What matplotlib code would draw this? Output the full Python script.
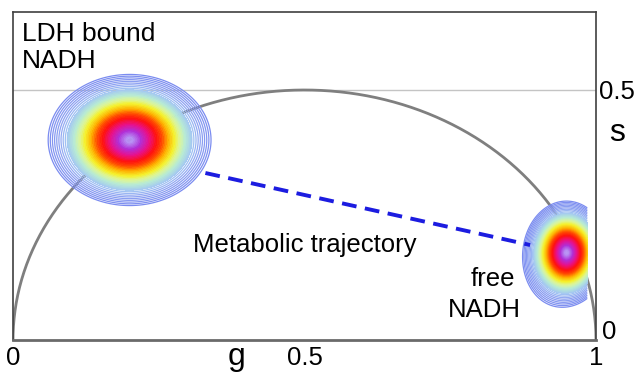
import numpy as np
import matplotlib.pyplot as plt
from matplotlib.colors import LinearSegmentedColormap

plt.rcParams['font.family'] = ['Liberation Sans', 'DejaVu Sans']

# blob parameters: centre (g, s), spread (g, s), weight
ldh_center = [0.20, 0.40]
ldh_sigma = [0.049, 0.046]
free_center = [0.950, 0.175]
free_sigma = [0.025, 0.036]
free_tail_center = [0.930, 0.150]
free_tail_sigma = [0.030, 0.046]
free_tail_weight = 0.05

# metabolic trajectory end points (g, s)
traj_g = [0.33, 0.887]
traj_s = [0.334, 0.19]

# colour stops from outer contour (0) to centre (1)
stop_pos = [0.0, 0.15, 0.24, 0.33, 0.40, 0.47, 0.55, 0.62, 0.70, 0.80, 0.90, 1.0]
stop_col = ['#7b8cf0', '#90a4f2', '#a4c8f2', '#b8ecd4', '#dcf69a', '#f6f02c',
            '#ffb000', '#ff5000', '#ff1010', '#e8108c', '#b030d8', '#b890f4']
cmap = LinearSegmentedColormap.from_list('phasor', list(zip(stop_pos, stop_col)))


def gauss(G, S, c, sig):
    return np.exp(-0.5 * (((G - c[0]) / sig[0]) ** 2 + ((S - c[1]) / sig[1]) ** 2))


fig = plt.figure(figsize=(6.39, 3.72), dpi=100)
ax = fig.add_axes([13 / 639, 1 - 340 / 372, 583 / 639, 328 / 372])
ax.set_xlim(0, 1)
ax.set_ylim(0, 0.656)

# universal semicircle and s = 0.5 line
th = np.linspace(0, np.pi, 400)
ax.plot(0.5 + 0.5 * np.cos(th), 0.5 * np.sin(th), color='#7f7f7f', lw=2, zorder=1)
ax.axhline(0.5, color='#c4c4c4', lw=1, zorder=0)

# contour levels in radius (outer -> inner): sparse outer rings, dense core
n_open = 9  # outer rings drawn as lines only
radii = np.concatenate([np.linspace(2.85, 2.25, n_open), np.linspace(2.18, 0.12, 38)])
levels = np.exp(-0.5 * radii ** 2)
tpos = (2.85 - radii) / (2.85 - 0.12)
line_colors = cmap(tpos)
fill_levels = list(levels[n_open:]) + [1.01]
fill_colors = cmap(tpos[n_open:])


def draw_blob(G, S, Z):
    ax.contourf(G, S, Z, levels=fill_levels, colors=fill_colors, alpha=0.95, zorder=2)
    ax.contour(G, S, Z, levels=levels, colors=line_colors, linewidths=0.9, zorder=2)


# LDH bound blob
g = np.linspace(0, 1, 600)
s = np.linspace(0, 0.656, 450)
G, S = np.meshgrid(g, s)
draw_blob(G, S, gauss(G, S, ldh_center, ldh_sigma))

# free NADH blob, cut at the data edge
g2 = np.linspace(0.8, 0.985, 300)
G2, S2 = np.meshgrid(g2, s)
Z2 = gauss(G2, S2, free_center, free_sigma) + free_tail_weight * gauss(G2, S2, free_tail_center, free_tail_sigma)
draw_blob(G2, S2, Z2 / Z2.max())

# trajectory
ax.plot(traj_g, traj_s, color='#1c1ce0', lw=2.8, dashes=(3.8, 2.2), zorder=3)

for side in ['left', 'right', 'top', 'bottom']:
    ax.spines[side].set_color('#404040')
    ax.spines[side].set_linewidth(1.2)
ax.spines['bottom'].set_color('#6a6a6a')
ax.spines['bottom'].set_linewidth(2)
ax.set_xticks([])
ax.set_yticks([])

fs = 18.5
ax.text(0.015, 0.636, 'LDH bound\nNADH', fontsize=19, va='top', ha='left', linespacing=1.15)
ax.text(0.5, 0.19, 'Metabolic trajectory', fontsize=fs, va='center', ha='center')
ax.text(0.823, 0.122, 'free', fontsize=fs, va='center', ha='center')
ax.text(0.808, 0.06, 'NADH', fontsize=fs, va='center', ha='center')

# axis labels as text
ax.text(0, -0.012, '0', fontsize=fs, va='top', ha='center', clip_on=False)
ax.text(0.5, -0.012, '0.5', fontsize=fs, va='top', ha='center', clip_on=False)
ax.text(1.0, -0.012, '1', fontsize=fs, va='top', ha='center', clip_on=False)
ax.text(0.384, -0.004, 'g', fontsize=23, va='top', ha='center', clip_on=False)
ax.text(1.006, 0.496, '0.5', fontsize=fs, va='center', ha='left', clip_on=False)
ax.text(1.036, 0.414, 's', fontsize=23, va='center', ha='center', clip_on=False)
ax.text(1.011, 0.016, '0', fontsize=fs, va='center', ha='left', clip_on=False)

fig.savefig('out.png', dpi=100)
